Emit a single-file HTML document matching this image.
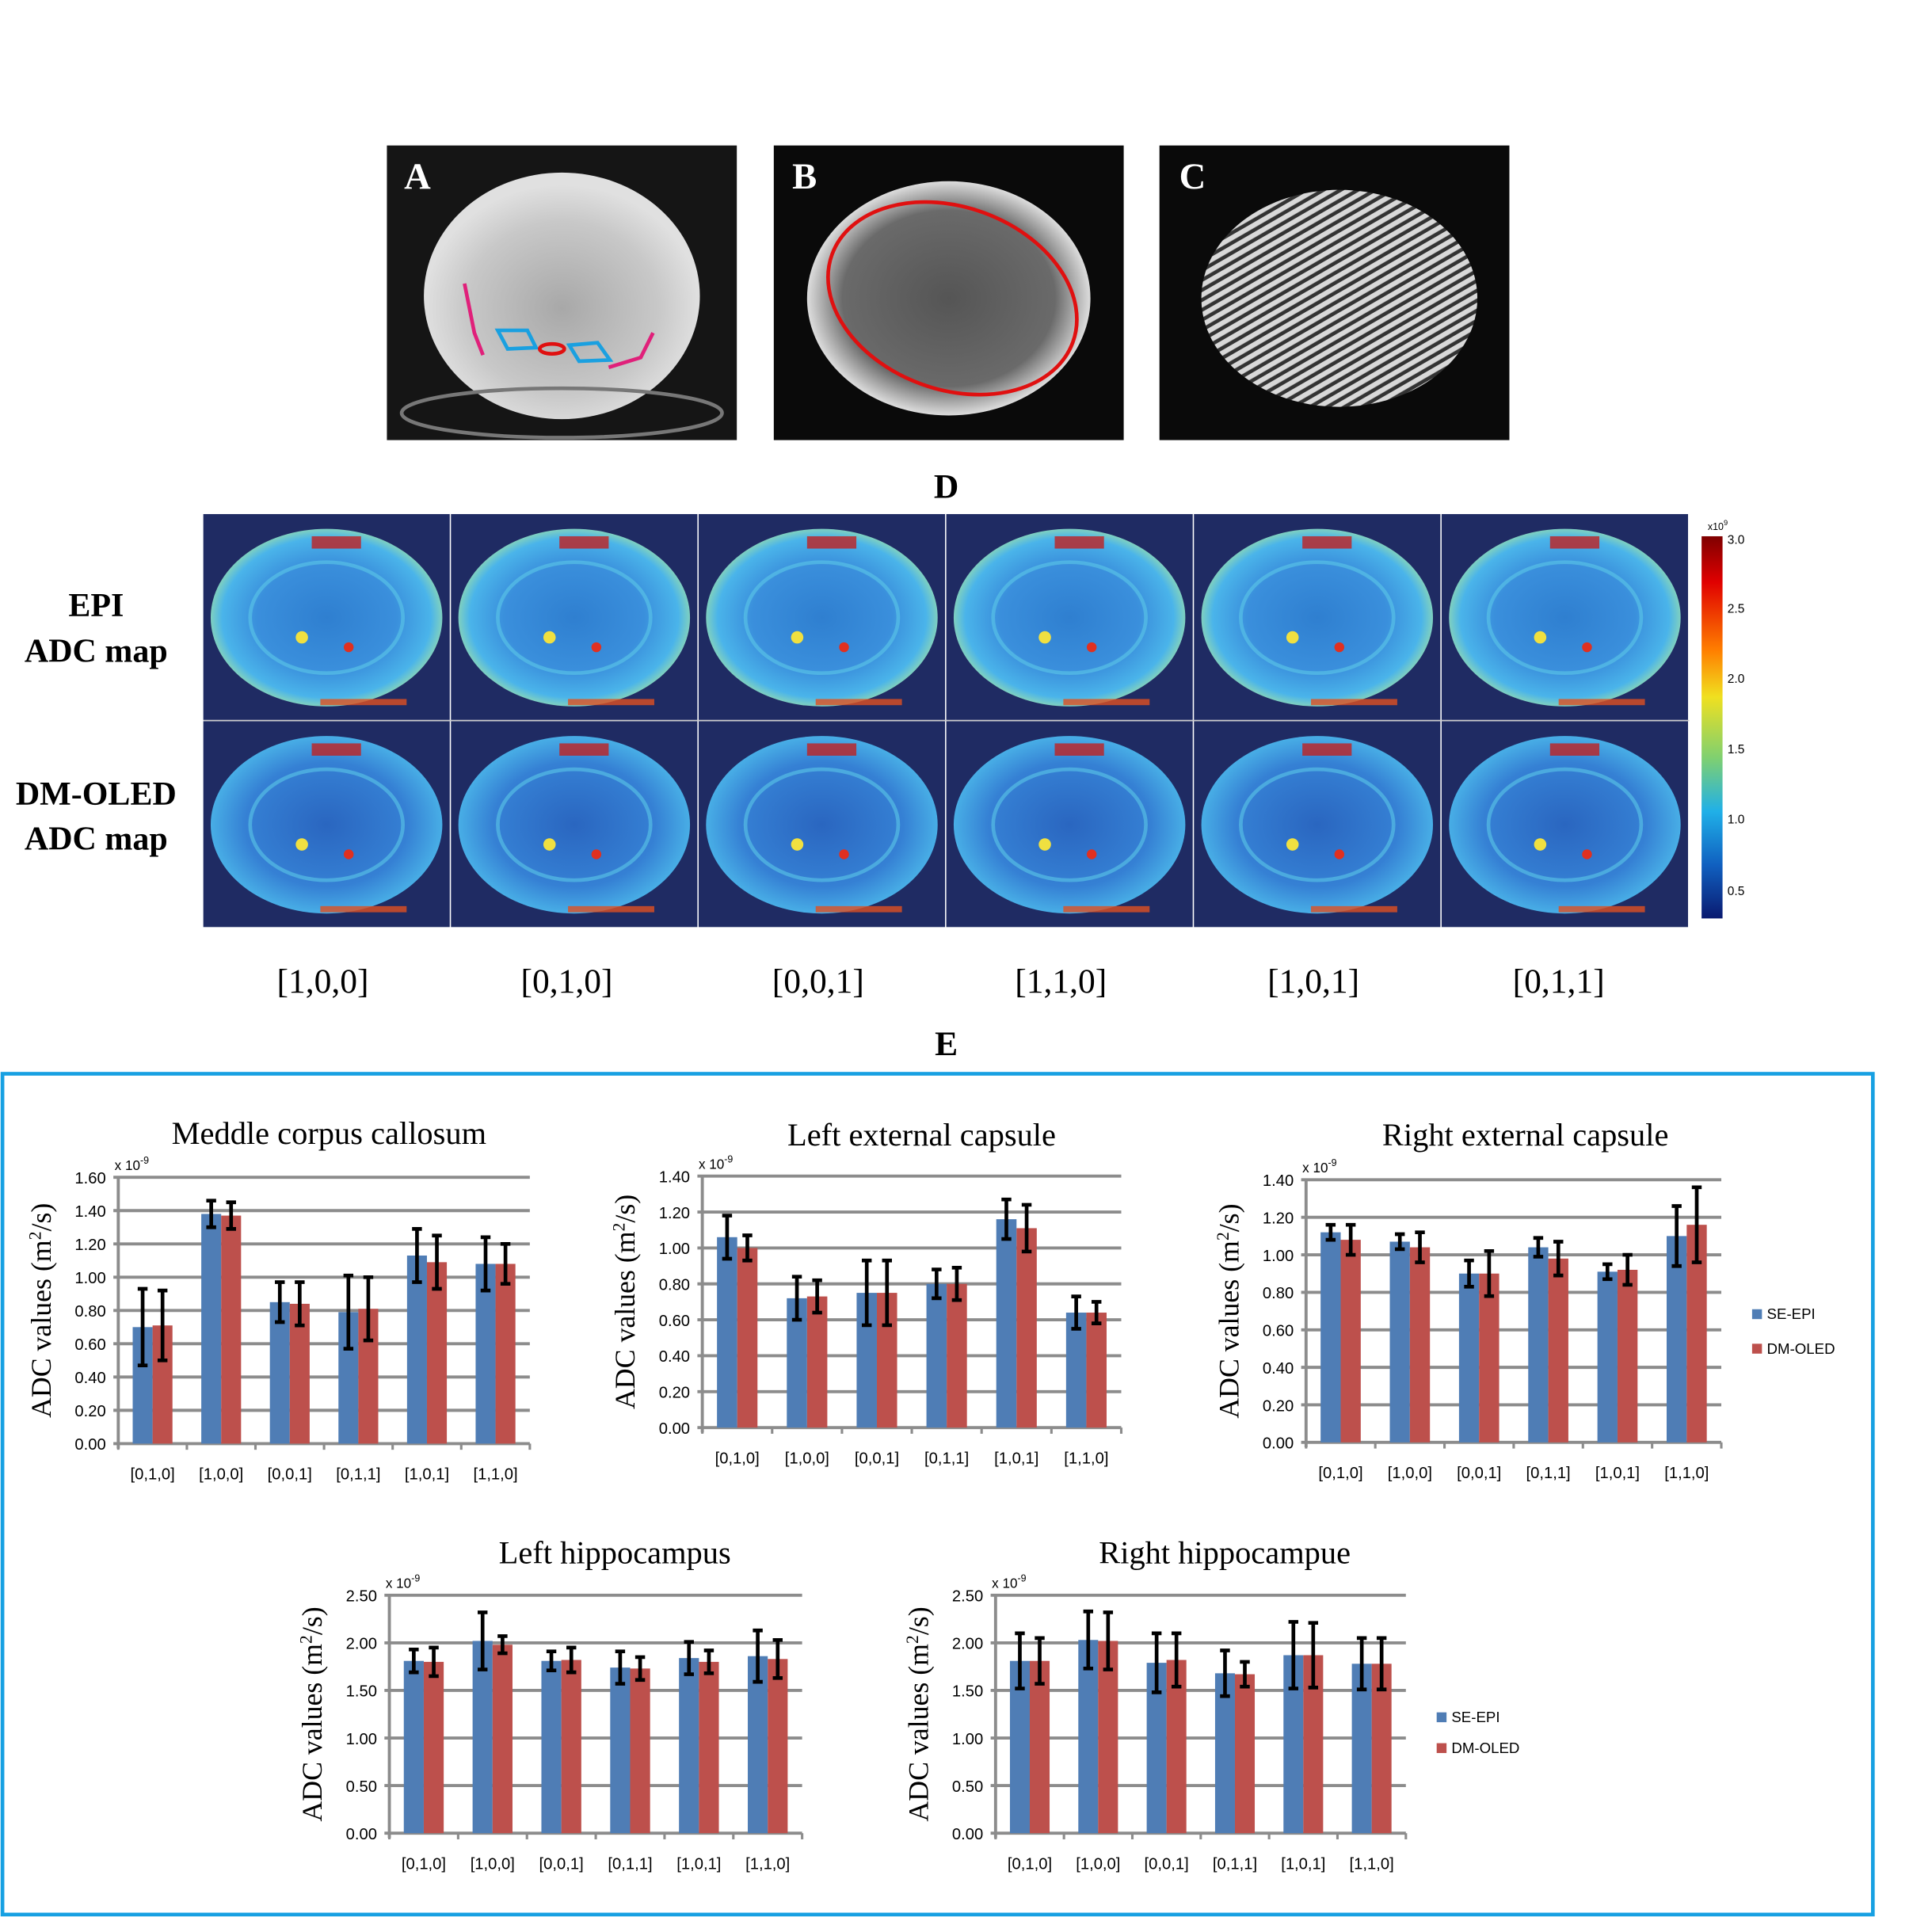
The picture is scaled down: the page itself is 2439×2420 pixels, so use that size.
<!DOCTYPE html>
<html><head><meta charset="utf-8"><style>
html,body{margin:0;padding:0;background:#fff}
svg{display:block}
.serif{font-family:"Liberation Serif",serif}
.sans{font-family:"Liberation Sans",sans-serif}
</style></head><body>
<svg id="fig" width="2439" height="2420" viewBox="0 0 1568 1555" preserveAspectRatio="none" xmlns="http://www.w3.org/2000/svg">
<defs>
<radialGradient id="gA" cx="50%" cy="55%" r="50%"><stop offset="0" stop-color="#a8a8a8"/><stop offset="0.7" stop-color="#c8c8c8"/><stop offset="1" stop-color="#e0e0e0"/></radialGradient>
<radialGradient id="gB" cx="50%" cy="50%" r="50%"><stop offset="0" stop-color="#555"/><stop offset="0.75" stop-color="#6a6a6a"/><stop offset="1" stop-color="#ddd"/></radialGradient>
<pattern id="hatch" width="7" height="7" patternUnits="userSpaceOnUse" patternTransform="rotate(60)"><rect width="7" height="7" fill="#333"/><rect width="4" height="7" fill="#d8d8d8"/></pattern>
<radialGradient id="gMap" cx="50%" cy="50%" r="50%"><stop offset="0" stop-color="#2f7fd0"/><stop offset="0.6" stop-color="#3a8fdc"/><stop offset="0.9" stop-color="#4ab4ea"/><stop offset="1" stop-color="#7fd0c0"/></radialGradient>
<radialGradient id="gMap2" cx="50%" cy="50%" r="50%"><stop offset="0" stop-color="#2a66c0"/><stop offset="0.7" stop-color="#3580d4"/><stop offset="1" stop-color="#48aee6"/></radialGradient>
<linearGradient id="jet" x1="0" y1="0" x2="0" y2="1"><stop offset="0" stop-color="#7f0000"/><stop offset="0.12" stop-color="#e00000"/><stop offset="0.3" stop-color="#ff8000"/><stop offset="0.42" stop-color="#f0e020"/><stop offset="0.58" stop-color="#7fd070"/><stop offset="0.72" stop-color="#20b0e8"/><stop offset="0.86" stop-color="#1060c0"/><stop offset="1" stop-color="#0a1a70"/></linearGradient>
</defs>

<g>
<rect x="314" y="118" width="284" height="239" fill="#151515"/>
<ellipse cx="456" cy="240" rx="112" ry="100" fill="url(#gA)"/>
<ellipse cx="456" cy="335" rx="130" ry="20" fill="none" stroke="#777" stroke-width="3"/>
<path d="M377 230 L385 270 L392 288" stroke="#e0207a" stroke-width="3" fill="none"/>
<path d="M530 270 L520 290 L494 298" stroke="#e0207a" stroke-width="3" fill="none"/>
<path d="M404 268 L428 268 L435 282 L412 283 Z" stroke="#1aa0e0" stroke-width="3" fill="none"/>
<path d="M462 280 L485 278 L495 292 L470 293 Z" stroke="#1aa0e0" stroke-width="3" fill="none"/>
<ellipse cx="448" cy="283" rx="10" ry="4" stroke="#e01010" stroke-width="3" fill="none"/>
<text x="328" y="153" class="serif" font-size="30" font-weight="bold" fill="#fff">A</text>
</g>
<g>
<rect x="628" y="118" width="284" height="239" fill="#0a0a0a"/>
<ellipse cx="770" cy="242" rx="115" ry="95" fill="url(#gB)"/>
<ellipse cx="773" cy="242" rx="104" ry="74" transform="rotate(20 773 242)" fill="none" stroke="#e01010" stroke-width="3"/>
<text x="643" y="153" class="serif" font-size="30" font-weight="bold" fill="#fff">B</text>
</g>
<g>
<rect x="941" y="118" width="284" height="239" fill="#0a0a0a"/>
<ellipse cx="1087" cy="242" rx="112" ry="88" fill="url(#hatch)"/>
<text x="957" y="153" class="serif" font-size="30" font-weight="bold" fill="#fff">C</text>
</g>

<text x="768" y="404" text-anchor="middle" class="serif" font-size="28" font-weight="bold">D</text>
<g id="maps"></g>
<g class="serif" font-size="27" font-weight="bold" text-anchor="middle">
<text x="78" y="500">EPI</text>
<text x="78" y="537">ADC map</text>
<text x="78" y="653">DM-OLED</text>
<text x="78" y="689">ADC map</text>
</g>
<g>
<rect x="1381" y="435" width="17" height="310" fill="url(#jet)"/>
<text x="1386" y="430" class="sans" font-size="8">x10<tspan dy="-4" font-size="6">9</tspan></text>
<g class="sans" font-size="10">
<text x="1402" y="441">3.0</text><text x="1402" y="497">2.5</text><text x="1402" y="554">2.0</text><text x="1402" y="611">1.5</text><text x="1402" y="668">1.0</text><text x="1402" y="726">0.5</text>
</g></g>
<g class="serif" font-size="28" text-anchor="middle">
<text x="262" y="805">[1,0,0]</text><text x="460" y="805">[0,1,0]</text><text x="664" y="805">[0,0,1]</text><text x="861" y="805">[1,1,0]</text><text x="1066" y="805">[1,0,1]</text><text x="1265" y="805">[0,1,1]</text>
</g>
<text x="768" y="856" text-anchor="middle" class="serif" font-size="28" font-weight="bold">E</text>
<rect x="2" y="871" width="1518" height="682" fill="none" stroke="#17a0e2" stroke-width="3"/>
<g id="charts"></g>
</svg>
<script>
const NS="http://www.w3.org/2000/svg";
const categories=["[0,1,0]","[1,0,0]","[0,0,1]","[0,1,1]","[1,0,1]","[1,1,0]"];
const c1Blue=[0.70,1.38,0.85,0.79,1.13,1.08], c1Red=[0.71,1.37,0.84,0.81,1.09,1.08];
const c1BlueErr=[0.23,0.08,0.12,0.22,0.16,0.16], c1RedErr=[0.21,0.08,0.13,0.19,0.16,0.12];
const c2Blue=[1.06,0.72,0.75,0.80,1.16,0.64], c2Red=[1.00,0.73,0.75,0.80,1.11,0.64];
const c2BlueErr=[0.12,0.12,0.18,0.08,0.11,0.09], c2RedErr=[0.07,0.09,0.18,0.09,0.13,0.06];
const c3Blue=[1.12,1.07,0.90,1.04,0.91,1.10], c3Red=[1.08,1.04,0.90,0.98,0.92,1.16];
const c3BlueErr=[0.04,0.04,0.07,0.05,0.04,0.16], c3RedErr=[0.08,0.08,0.12,0.09,0.08,0.20];
const c4Blue=[1.81,2.02,1.81,1.74,1.84,1.86], c4Red=[1.80,1.98,1.82,1.73,1.80,1.83];
const c4BlueErr=[0.12,0.30,0.10,0.17,0.17,0.27], c4RedErr=[0.15,0.09,0.13,0.12,0.12,0.20];
const c5Blue=[1.81,2.03,1.79,1.68,1.87,1.78], c5Red=[1.81,2.02,1.82,1.67,1.87,1.78];
const c5BlueErr=[0.29,0.30,0.31,0.24,0.35,0.27], c5RedErr=[0.24,0.30,0.28,0.13,0.34,0.27];
const ticks14=[0,0.2,0.4,0.6,0.8,1.0,1.2,1.4];
const ticks16=[0,0.2,0.4,0.6,0.8,1.0,1.2,1.4,1.6];
const ticks25=[0,0.5,1.0,1.5,2.0,2.5];
const seriesNames=["SE-EPI","DM-OLED"];

function el(tag,attrs,parent){const e=document.createElementNS(NS,tag);for(const k in attrs)e.setAttribute(k,attrs[k]);parent.appendChild(e);return e;}

const maps=document.getElementById('maps');
for(let r=0;r<2;r++)for(let c=0;c<6;c++){
  const x=165+c*201, y=417+r*168;
  const g=el('g',{},maps);
  
  
  el('rect',{x:x,y:y,width:200,height:167,fill:'#1f2b63'},g);
  el('ellipse',{cx:x+100,cy:y+84,rx:94,ry:72,fill:r?'url(#gMap2)':'url(#gMap)'},g);
  el('ellipse',{cx:x+100,cy:y+84,rx:62,ry:45,fill:'none',stroke:'#5cc8e8','stroke-width':3,opacity:0.6},g);
  el('circle',{cx:x+80,cy:y+100,r:5,fill:'#f0e040'},g);
  el('circle',{cx:x+118,cy:y+108,r:4,fill:'#e03020'},g);
  el('rect',{x:x+88,y:y+18,width:40,height:10,fill:'#c02020',opacity:0.8},g);
  el('rect',{x:x+95,y:y+150,width:70,height:5,fill:'#e05020',opacity:0.8},g);
}
el('line',{x1:165,y1:584.5,x2:1371,y2:584.5,stroke:'#ccc','stroke-width':1},maps);

function chart(o){
  const root=document.getElementById('charts');
  const g=el('g',{},root);
  
  
  const max=o.ticks[o.ticks.length-1];
  const yS=v=>o.y0-(v/max)*(o.y0-o.yTop);
  const cw=(o.x1-o.x0)/categories.length, bw=cw*0.29;
  const t=el('text',{x:o.tx,y:o.ty,'text-anchor':'middle','class':'serif','font-size':26},g);
  t.textContent=o.title;
  
  
  o.ticks.forEach(v=>{
    const y=yS(v);
    const gl=el('line',{x1:o.x0-4,y1:y,x2:o.x1,y2:y,stroke:'#8c8c8c','stroke-width':2.5},g);
    
    
    const tl=el('text',{x:o.x0-10,y:y+5,'text-anchor':'end','class':'sans','font-size':13},g);
    tl.textContent=v.toFixed(2);
    
    
  });
  el('line',{x1:o.x0,y1:o.yTop,x2:o.x0,y2:o.y0+4,stroke:'#8c8c8c','stroke-width':2.5},g);
  for(let i=0;i<=categories.length;i++)el('line',{x1:o.x0+i*cw,y1:o.y0,x2:o.x0+i*cw,y2:o.y0+5,stroke:'#8c8c8c','stroke-width':2},g);
  const ex=el('text',{x:o.x0-3,y:o.yTop-6,'class':'sans','font-size':11},g);
  ex.innerHTML='x 10<tspan dy="-5" font-size="8">-9</tspan>';
  
  
  const yt=el('text',{transform:`translate(${o.x0-55},${(o.y0+o.yTop)/2}) rotate(-90)`,'text-anchor':'middle','class':'serif','font-size':23},g);
  yt.innerHTML='ADC values (m<tspan dy="-8" font-size="14">2</tspan><tspan dy="8">/s)</tspan>';
  
  
  categories.forEach((c,i)=>{
    const cx=o.x0+(i+0.5)*cw;
    [[o.blue,o.blueErr,'#4f7db5',cx-bw],[o.red,o.redErr,'#bd504c',cx]].forEach(([vals,errs,col,bx],s)=>{
      const v=vals[i], e=errs[i];
      const b=el('rect',{x:bx,y:yS(v),width:bw,height:o.y0-yS(v),fill:col},g);
      
      
      const mx=bx+bw/2;
      const eb=el('path',{d:`M${mx} ${yS(v+e)}V${yS(v-e)}M${mx-4} ${yS(v+e)}H${mx+4}M${mx-4} ${yS(v-e)}H${mx+4}`,stroke:'#000','stroke-width':3,fill:'none'},g);
      
      
    });
    const xl=el('text',{x:cx,y:o.y0+29,'text-anchor':'middle','class':'sans','font-size':13},g);
    xl.textContent=c;
    
    
  });
  if(o.legend){
    seriesNames.forEach((n,k)=>{
      const ly=o.legend[1]+k*o.legend[2];
      const sw=el('rect',{x:o.legend[0],y:ly-8,width:8,height:8,fill:k?'#bd504c':'#4f7db5'},g);
      
      
      const lt=el('text',{x:o.legend[0]+12,y:ly,'class':'sans','font-size':12},g);
      lt.textContent=n;
      
      
    });
  }
}
chart({name:'chart-middle-corpus-callosum',title:'Meddle corpus callosum',tx:267,ty:928,x0:96,x1:430,yTop:955,y0:1171,ticks:ticks16,blue:c1Blue,red:c1Red,blueErr:c1BlueErr,redErr:c1RedErr});
chart({name:'chart-left-external-capsule',title:'Left external capsule',tx:748,ty:929,x0:570,x1:910,yTop:954,y0:1158,ticks:ticks14,blue:c2Blue,red:c2Red,blueErr:c2BlueErr,redErr:c2RedErr});
chart({name:'chart-right-external-capsule',title:'Right external capsule',tx:1238,ty:929,x0:1060,x1:1397,yTop:957,y0:1170,ticks:ticks14,blue:c3Blue,red:c3Red,blueErr:c3BlueErr,redErr:c3RedErr,legend:[1422,1070,28]});
chart({name:'chart-left-hippocampus',title:'Left hippocampus',tx:499,ty:1268,x0:316,x1:651,yTop:1294,y0:1487,ticks:ticks25,blue:c4Blue,red:c4Red,blueErr:c4BlueErr,redErr:c4RedErr});
chart({name:'chart-right-hippocampus',title:'Right hippocampue',tx:994,ty:1268,x0:808,x1:1141,yTop:1294,y0:1487,ticks:ticks25,blue:c5Blue,red:c5Red,blueErr:c5BlueErr,redErr:c5RedErr,legend:[1166,1397,25]});
</script>
</body></html>
